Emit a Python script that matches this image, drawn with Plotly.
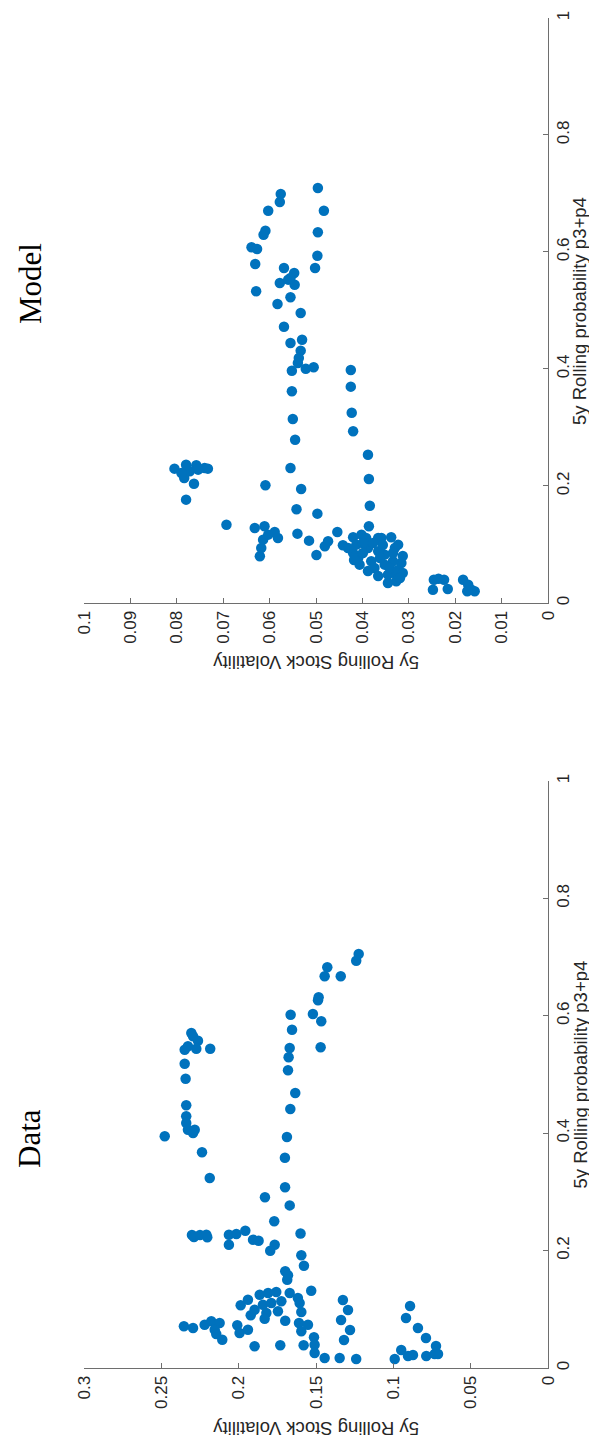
import plotly.graph_objects as go

# ---------------- Data panel values ----------------
data_vol = [0.183, 0.170, 0.167, 0.177, 0.160,
            0.2302, 0.2289, 0.2250, 0.2209, 0.2203,
            0.2063, 0.2063, 0.2015, 0.1957, 0.1907, 0.1871, 0.1767, 0.1796,
            0.1595, 0.1578, 0.1699, 0.1681, 0.1686, 0.1531,
            0.1987, 0.1940, 0.1922, 0.1864, 0.1810, 0.1757, 0.1670, 0.1617, 0.1606,
            0.1843, 0.1789, 0.1724, 0.1897, 0.1821, 0.1746, 0.1595, 0.1699, 0.1832,
            0.2354, 0.2295, 0.2220, 0.2177, 0.2123, 0.2155, 0.2145, 0.2106,
            0.2009, 0.1994, 0.1940, 0.1610, 0.1552, 0.1595,
            0.1513, 0.1509, 0.1509, 0.1444, 0.1897, 0.1731, 0.1580,
            0.1347, 0.1240, 0.0991, 0.0949, 0.0905, 0.0873, 0.0787, 0.0733, 0.0711,
            0.1444, 0.1483, 0.1487, 0.1520, 0.1466, 0.1470,
            0.1664, 0.1655, 0.1670, 0.1677, 0.1681, 0.1634, 0.1666, 0.1688, 0.1701,
            0.2306, 0.2295, 0.2263, 0.2349, 0.2328, 0.2274, 0.2184, 0.2349, 0.2343,
            0.2339, 0.2339, 0.2339, 0.2328, 0.2295, 0.2284, 0.2478, 0.2237, 0.2187,
            0.1224, 0.1240, 0.1427, 0.1340,
            0.1326, 0.1293, 0.1338, 0.1280, 0.1319,
            0.0892, 0.0918, 0.0841, 0.0789, 0.0724]
data_prob = [0.291, 0.308, 0.277, 0.250, 0.229,
             0.2266, 0.2232, 0.2266, 0.2271, 0.2227,
             0.2271, 0.2101, 0.2283, 0.2339, 0.2186, 0.2169, 0.2101, 0.1998,
             0.1920, 0.1743, 0.1647, 0.1579, 0.1504, 0.1317,
             0.1068, 0.1164, 0.0898, 0.1249, 0.1278, 0.1295, 0.1278, 0.1193, 0.1107,
             0.1078, 0.1107, 0.1136, 0.0993, 0.0937, 0.0966, 0.0954, 0.0806, 0.0840,
             0.0710, 0.0681, 0.0738, 0.0796, 0.0767, 0.0653, 0.0579, 0.0482,
             0.0727, 0.0596, 0.0653, 0.0767, 0.0738, 0.0625,
             0.0523, 0.0397, 0.0256, 0.0170, 0.0370, 0.0387, 0.0387,
             0.0170, 0.0153, 0.0153, 0.0307, 0.0204, 0.0221, 0.0204, 0.0239, 0.0239,
             0.6673, 0.6315, 0.6264, 0.6031, 0.5906, 0.5463,
             0.6019, 0.5763, 0.5452, 0.5293, 0.5072, 0.4685, 0.4412, 0.3935, 0.3583,
             0.5707, 0.5651, 0.5576, 0.5423, 0.5480, 0.5440, 0.5440, 0.5184, 0.4929,
             0.4475, 0.4288, 0.4174, 0.4060, 0.4003, 0.4060, 0.3947, 0.3675, 0.3237,
             0.7053, 0.6939, 0.6826, 0.6673,
             0.1158, 0.0988, 0.0818, 0.0647, 0.0477,
             0.1056, 0.0852, 0.0681, 0.0511, 0.0375]

# ---------------- Model panel values ----------------
model_vol = [0.0576, 0.0578, 0.0496, 0.0603, 0.0483, 0.0609, 0.0613, 0.0496, 0.0639, 0.0627,
             0.0497, 0.0502, 0.0631, 0.0569, 0.0547, 0.0578, 0.0560, 0.0546, 0.0555, 0.0629,
             0.0555, 0.0583, 0.0533, 0.0569, 0.0555, 0.0530, 0.0533, 0.0537, 0.0539, 0.0552,
             0.0522, 0.0505, 0.0552, 0.0550, 0.0545,
             0.0425, 0.0425, 0.0423, 0.0420, 0.0388,
             0.0555, 0.0532, 0.0609, 0.0542, 0.0497, 0.0540, 0.0515, 0.0499, 0.0481, 0.0474,
             0.0454, 0.0442, 0.0693,
             0.0805, 0.0780, 0.0758, 0.0740, 0.0733, 0.0784, 0.0763, 0.0772, 0.0754, 0.0790, 0.0780,
             0.0632, 0.0611, 0.0589, 0.0582, 0.0621, 0.0618, 0.0614, 0.0603,
             0.0386, 0.0384, 0.0386,
             0.0420, 0.0402, 0.0392, 0.0366, 0.0359, 0.0338, 0.0420, 0.0409, 0.0406, 0.0381,
             0.0374, 0.0352, 0.0330, 0.0323, 0.0316, 0.0327, 0.0345, 0.0352, 0.0366, 0.0388,
             0.0413, 0.0334, 0.0327, 0.0341,
             0.0399, 0.0377, 0.0356, 0.0334, 0.0313, 0.0431, 0.0399, 0.0362, 0.0323, 0.0366,
             0.0388, 0.0313, 0.0345, 0.0319, 0.0418,
             0.0246, 0.0236, 0.0224, 0.0248, 0.0216,
             0.0183, 0.0172, 0.0165, 0.0158, 0.0174]
model_prob = [0.6991, 0.6855, 0.7094, 0.6706, 0.6706, 0.6364, 0.6296, 0.6337, 0.6080, 0.6051,
              0.5937, 0.5726, 0.5795, 0.5726, 0.5641, 0.5470, 0.5527, 0.5441, 0.5556, 0.5328,
              0.5226, 0.5111, 0.4957, 0.4723, 0.4444, 0.4501, 0.4313, 0.4188, 0.4103, 0.3971,
              0.4005, 0.4029, 0.3619, 0.3145, 0.2791,
              0.3983, 0.3698, 0.3253, 0.2935, 0.2535,
              0.2308, 0.1949, 0.2012, 0.1602, 0.1527, 0.1185, 0.1065, 0.0821, 0.0969, 0.1055,
              0.1214, 0.0986, 0.1338,
              0.2296, 0.2364, 0.2354, 0.2308, 0.2296, 0.2137, 0.2039, 0.2251, 0.2279, 0.2222, 0.1766,
              0.1282, 0.1311, 0.1214, 0.1111, 0.0798, 0.0940, 0.1082, 0.1168,
              0.2120, 0.1663, 0.1311,
              0.1123, 0.1168, 0.1111, 0.1111, 0.1111, 0.1123, 0.0855, 0.0769, 0.0655, 0.0713,
              0.0598, 0.0826, 0.0940, 0.0997, 0.0684, 0.0484, 0.0484, 0.0655, 0.0884, 0.0940,
              0.0997, 0.0713, 0.0371, 0.0598,
              0.1026, 0.1026, 0.0991, 0.0855, 0.0803, 0.0940, 0.0855, 0.0769, 0.0564, 0.0462,
              0.0547, 0.0513, 0.0342, 0.0427, 0.0735,
              0.0398, 0.0415, 0.0398, 0.0227, 0.0239,
              0.0398, 0.0313, 0.0227, 0.0200, 0.0200]

data_vol_ticks = [0, 0.05, 0.1, 0.15, 0.2, 0.25, 0.3]
data_vol_labels = ["0", "0.05", "0.1", "0.15", "0.2", "0.25", "0.3"]
model_vol_ticks = [0, 0.01, 0.02, 0.03, 0.04, 0.05, 0.06, 0.07, 0.08, 0.09, 0.1]
model_vol_labels = ["0", "0.01", "0.02", "0.03", "0.04", "0.05", "0.06", "0.07", "0.08", "0.09", "0.1"]
prob_ticks = [0, 0.2, 0.4, 0.6, 0.8, 1]
prob_labels = ["0", "0.2", "0.4", "0.6", "0.8", "1"]
panel_titles = ["Data", "Model"]
vol_title = "5y Rolling Stock Volatility"
prob_title = "5y Rolling probability p3+p4"

BLUE = "#0072BD"
AX = "#262626"
LINE = "#6e6e6e"
FONT = "Liberation Sans, Arial, sans-serif"

fig = go.Figure()
fig.add_trace(go.Scatter(x=data_vol, y=data_prob, mode="markers", xaxis="x", yaxis="y",
                         marker=dict(color=BLUE, size=10.5, line=dict(width=0)), showlegend=False))
fig.add_trace(go.Scatter(x=model_vol, y=model_prob, mode="markers", xaxis="x2", yaxis="y2",
                         marker=dict(color=BLUE, size=10.5, line=dict(width=0)), showlegend=False))

def xax(rng, tv, tt, anchor):
    return dict(range=rng, tickvals=tv, ticktext=tt, tickangle=-90, ticks="inside", ticklen=5,
                tickcolor=LINE, showline=True, linecolor=LINE, linewidth=1, showgrid=False,
                zeroline=False, domain=[0, 1], anchor=anchor,
                tickfont=dict(family=FONT, size=17, color=AX))

def yax(dom, anchor):
    return dict(range=[0, 1], tickvals=prob_ticks, ticktext=prob_labels, tickangle=-90,
                ticks="inside", ticklen=5, tickcolor=LINE, showline=True, linecolor=LINE,
                linewidth=1, showgrid=False, zeroline=False, domain=dom, anchor=anchor,
                side="right", tickfont=dict(family=FONT, size=17, color=AX))

fig.update_layout(
    width=597, height=1438,
    margin=dict(l=76, r=57, t=10, b=78, autoexpand=False),
    plot_bgcolor="white", paper_bgcolor="white",
    xaxis=xax([0.3, 0], data_vol_ticks, data_vol_labels, "y"),
    yaxis=yax([0, 0.4348], "x"),
    xaxis2=xax([0.1, 0], model_vol_ticks, model_vol_labels, "y2"),
    yaxis2=yax([0.5667, 1], "x2"),
)

ann = []
ann.append(dict(text=panel_titles[0], x=-0.1164, y=0.1704, textangle=-90))
ann.append(dict(text=panel_titles[1], x=-0.1164, y=0.8037, textangle=-90))
for a in ann:
    a.update(xref="paper", yref="paper", showarrow=False, xanchor="center", yanchor="middle",
             font=dict(family="Liberation Serif, Times New Roman, serif", size=31, color="black"))
axt = []
for yc in [-0.0444, 0.5222]:
    axt.append(dict(text=vol_title, x=0.5, y=yc, textangle=180))
for yc in [0.2174, 0.7830]:
    axt.append(dict(text=prob_title, x=1.0690, y=yc, textangle=-90))
for a in axt:
    a.update(xref="paper", yref="paper", showarrow=False, xanchor="center", yanchor="middle",
             borderpad=0, font=dict(family=FONT, size=18.5, color=AX))
fig.update_layout(annotations=ann + axt)

fig.write_html("out.html")
